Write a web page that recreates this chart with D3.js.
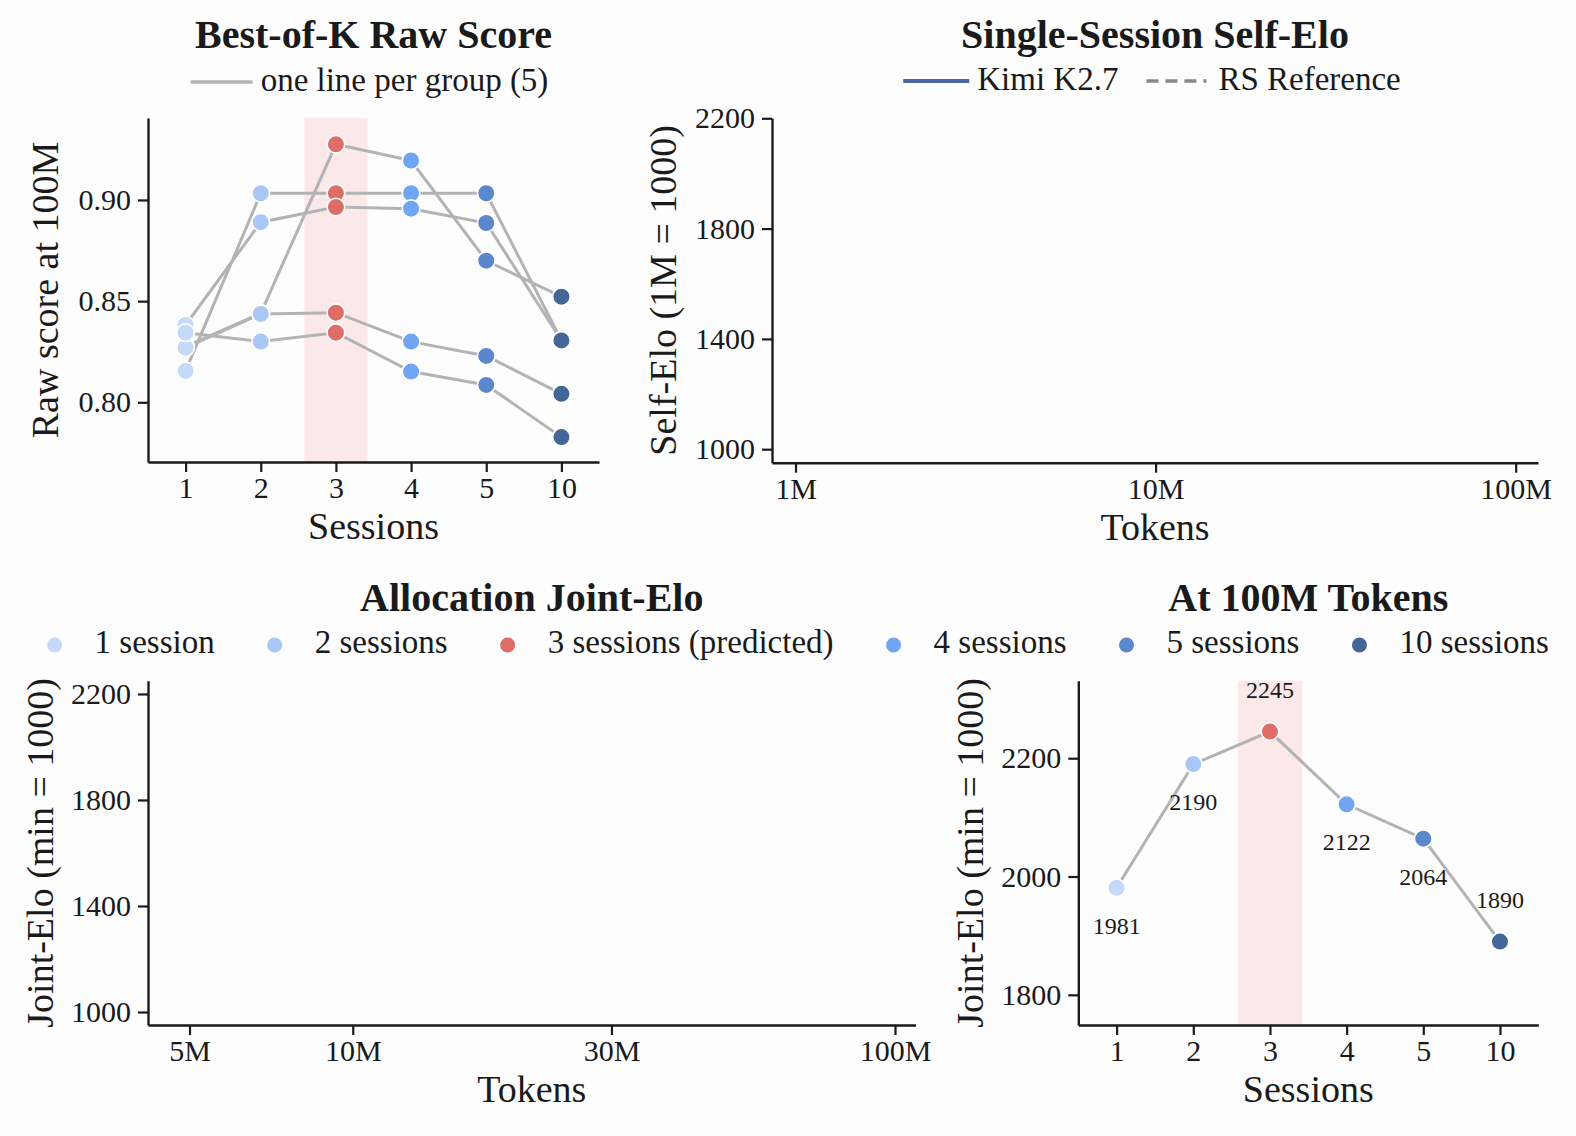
<!DOCTYPE html>
<html>
<head>
<meta charset="utf-8">
<script src="https://cdn.jsdelivr.net/npm/d3@7/dist/d3.min.js"></script>
<style>
  html, body { margin: 0; padding: 0; background: #fdfdfd; }
  svg { display: block; }
  text { font-family: "Liberation Serif", "DejaVu Serif", serif; fill: #1a1a1a; }
</style>
</head>
<body>
<svg id="chart" width="1576" height="1136"></svg>
<script>
// ---------------- DATA ----------------
const sessions = ["1", "2", "3", "4", "5", "10"];
const sessionLabels = ["1 session", "2 sessions", "3 sessions (predicted)", "4 sessions", "5 sessions", "10 sessions"];
const sessionColors = ["#c5daf8", "#a9c7f5", "#dd6d66", "#6fa5f2", "#5b88cc", "#446699"];
const predictedSession = "3";

// Best-of-K raw score at 100M, one line per group (5 groups)
const rawGroup1 = [0.8275, 0.8440, 0.9275, 0.9195, 0.8700, 0.8522];
const rawGroup2 = [0.8155, 0.9033, 0.9033, 0.9033, 0.9033, 0.8306];
const rawGroup3 = [0.8382, 0.8890, 0.8965, 0.8957, 0.8886, 0.8306];
const rawGroup4 = [0.8270, 0.8437, 0.8443, 0.8300, 0.8229, 0.8042];
const rawGroup5 = [0.8344, 0.8300, 0.8344, 0.8152, 0.8086, 0.7828];
const rawTicks = [0.80, 0.85, 0.90];

// Joint-Elo at 100M tokens
const joint100M = [1981, 2190, 2245, 2122, 2064, 1890];
const joint100MTicks = [1800, 2000, 2200];

// Elo panels (no series drawn)
const eloTicks = [1000, 1400, 1800, 2200];
const selfTokenTicks = [1e6, 1e7, 1e8];
const selfTokenLabels = ["1M", "10M", "100M"];
const jointTokenTicks = [5e6, 1e7, 3e7, 1e8];
const jointTokenLabels = ["5M", "10M", "30M", "100M"];

// ---------------- STYLE ----------------
const FONT_TICK = 30, FONT_LABEL = 38, FONT_TITLE = 40, FONT_LEG = 33, FONT_ANN = 24;
const INK = "#1a1a1a";
const GRAY = "#b3b3b3";
const BAND = "#fbe9e9";

const svg = d3.select("#chart");

function styleAxis(g) {
  g.selectAll(".domain").attr("stroke", INK).attr("stroke-width", 2.4);
  g.selectAll(".tick line").attr("stroke", INK).attr("stroke-width", 2.2);
  g.selectAll(".tick text").attr("font-size", FONT_TICK).attr("fill", INK)
    .attr("font-family", '"Liberation Serif", serif');
}

function panel(opts) {
  const { left, right, top, bottom, x, y, xTicks, xFmt, yTicks, yFmt, xLabel, yLabel, yLabelX, title } = opts;
  const gx = svg.append("g").attr("transform", `translate(0,${bottom})`)
    .call(d3.axisBottom(x).tickValues(xTicks).tickFormat(xFmt).tickSize(10).tickPadding(5).tickSizeOuter(0));
  styleAxis(gx);
  const gy = svg.append("g").attr("transform", `translate(${left},0)`)
    .call(d3.axisLeft(y).tickValues(yTicks).tickFormat(yFmt).tickSize(10).tickPadding(7).tickSizeOuter(0));
  styleAxis(gy);
  svg.append("text").attr("x", (left + right) / 2).attr("y", bottom + 77)
    .attr("text-anchor", "middle").attr("font-size", FONT_LABEL).text(xLabel);
  svg.append("text").attr("transform", `translate(${yLabelX},${(top + bottom) / 2}) rotate(-90)`)
    .attr("text-anchor", "middle").attr("font-size", FONT_LABEL).text(yLabel);
  svg.append("text").attr("x", (left + right) / 2).attr("y", top - 70)
    .attr("text-anchor", "middle").attr("font-size", FONT_TITLE).attr("font-weight", "bold").text(title);
}

// ---------------- PANEL 1: Best-of-K Raw Score ----------------
{
  const L = 148, R = 599, T = 118, B = 462;
  const x = d3.scalePoint().domain(sessions).range([L, R]).padding(0.5);
  const y = d3.scaleLinear().domain([0.7705, 0.9405]).range([B, T]);
  const step = x.step();
  svg.append("rect").attr("x", x(predictedSession) - 0.42 * step).attr("width", 0.84 * step)
    .attr("y", T).attr("height", B - T).attr("fill", BAND);
  panel({ left: L, right: R, top: T, bottom: B, x, y,
    xTicks: sessions, xFmt: d => d, yTicks: rawTicks, yFmt: d3.format(".2f"),
    xLabel: "Sessions", yLabel: "Raw score at 100M", yLabelX: 58, title: "Best-of-K Raw Score" });
  const groups = [rawGroup1, rawGroup2, rawGroup3, rawGroup4, rawGroup5];
  const line = d3.line().x((d, i) => x(sessions[i])).y(d => y(d));
  svg.append("g").selectAll("path").data(groups).join("path")
    .attr("d", line).attr("fill", "none").attr("stroke", GRAY).attr("stroke-width", 3);
  const pts = groups.flatMap(g => g.map((v, i) => ({ s: sessions[i], i, v })));
  svg.append("g").selectAll("circle").data(pts).join("circle")
    .attr("cx", d => x(d.s)).attr("cy", d => y(d.v)).attr("r", 8.8)
    .attr("fill", d => sessionColors[d.i]).attr("stroke", "#fff").attr("stroke-width", 1.6);
  // legend
  const lg = svg.append("g");
  lg.append("line").attr("x1", 0).attr("x2", 62).attr("y1", 0).attr("y2", 0)
    .attr("stroke", GRAY).attr("stroke-width", 3.5);
  const t = lg.append("text").attr("x", 70).attr("y", 9).attr("font-size", FONT_LEG).text("one line per group (5)");
  const w = 70 + t.node().getComputedTextLength();
  lg.attr("transform", `translate(${(L + R) / 2 - 4 - w / 2},82)`);
}

// ---------------- PANEL 2: Single-Session Self-Elo ----------------
{
  const L = 772, R = 1538, T = 118, B = 462.7;
  const x = d3.scaleLog().domain([Math.pow(10, 5.9347), Math.pow(10, 8.062)]).range([L, R]);
  const y = d3.scaleLinear().domain([951, 2201]).range([B, T]);
  panel({ left: L, right: R, top: T, bottom: B, x, y,
    xTicks: selfTokenTicks, xFmt: (d, i) => selfTokenLabels[i], yTicks: eloTicks, yFmt: d3.format("d"),
    xLabel: "Tokens", yLabel: "Self-Elo (1M = 1000)", yLabelX: 676, title: "Single-Session Self-Elo" });
  const lg = svg.append("g");
  lg.append("line").attr("x1", 0).attr("x2", 66).attr("y1", 0).attr("y2", 0)
    .attr("stroke", "#4a6aa5").attr("stroke-width", 4);
  const t1 = lg.append("text").attr("x", 74).attr("y", 9).attr("font-size", FONT_LEG).text("Kimi K2.7");
  const x2 = 74 + t1.node().getComputedTextLength() + 28;
  lg.append("line").attr("x1", x2).attr("x2", x2 + 60).attr("y1", 0).attr("y2", 0)
    .attr("stroke", "#888").attr("stroke-width", 3.5).attr("stroke-dasharray", "12,7");
  const t2 = lg.append("text").attr("x", x2 + 72).attr("y", 9).attr("font-size", FONT_LEG).text("RS Reference");
  const w = x2 + 72 + t2.node().getComputedTextLength();
  lg.attr("transform", `translate(${1152 - w / 2},81)`);
}

// ---------------- PANEL 3: Allocation Joint-Elo ----------------
{
  const L = 148, R = 915.5, T = 680.7, B = 1025;
  const x = d3.scaleLog().domain([Math.pow(10, 6.6224), Math.pow(10, 8.0378)]).range([L, R]);
  const y = d3.scaleLinear().domain([951, 2250]).range([B, T]);
  panel({ left: L, right: R, top: T, bottom: B, x, y,
    xTicks: jointTokenTicks, xFmt: (d, i) => jointTokenLabels[i], yTicks: eloTicks, yFmt: d3.format("d"),
    xLabel: "Tokens", yLabel: "Joint-Elo (min = 1000)", yLabelX: 53, title: "Allocation Joint-Elo" });
}

// ---------------- PANEL 4: At 100M Tokens ----------------
{
  const L = 1078.3, R = 1538.3, T = 680.7, B = 1025;
  const x = d3.scalePoint().domain(sessions).range([L, R]).padding(0.5);
  const y = d3.scaleLinear().domain([1749, 2331]).range([B, T]);
  const step = x.step();
  svg.append("rect").attr("x", x(predictedSession) - 0.42 * step).attr("width", 0.84 * step)
    .attr("y", T).attr("height", B - T).attr("fill", BAND);
  panel({ left: L, right: R, top: T, bottom: B, x, y,
    xTicks: sessions, xFmt: d => d, yTicks: joint100MTicks, yFmt: d3.format("d"),
    xLabel: "Sessions", yLabel: "Joint-Elo (min = 1000)", yLabelX: 983, title: "At 100M Tokens" });
  const line = d3.line().x((d, i) => x(sessions[i])).y(d => y(d));
  svg.append("path").datum(joint100M).attr("d", line).attr("fill", "none")
    .attr("stroke", GRAY).attr("stroke-width", 3);
  svg.append("g").selectAll("circle").data(joint100M).join("circle")
    .attr("cx", (d, i) => x(sessions[i])).attr("cy", d => y(d)).attr("r", 8.8)
    .attr("fill", (d, i) => sessionColors[i]).attr("stroke", "#fff").attr("stroke-width", 1.6);
  const maxV = d3.max(joint100M);
  svg.append("g").selectAll("text").data(joint100M).join("text")
    .attr("x", (d, i) => x(sessions[i]))
    .attr("y", (d, i) => (d === maxV || i === joint100M.length - 1) ? y(d) - 42 + 8 : y(d) + 38 + 8)
    .attr("text-anchor", "middle").attr("font-size", FONT_ANN).text(d => d);
}

// ---------------- Figure legend (sessions) ----------------
{
  const lg = svg.append("g");
  let cx = 0;
  sessionLabels.forEach((lab, i) => {
    lg.append("circle").attr("cx", cx).attr("cy", 0).attr("r", 7.5).attr("fill", sessionColors[i]);
    const t = lg.append("text").attr("x", cx + 40).attr("y", 8).attr("font-size", FONT_LEG).text(lab);
    cx += 40 + t.node().getComputedTextLength() + 60;
  });
  const total = cx - 60 + 7.5;
  lg.attr("transform", `translate(${798 - total / 2 + 7.5},645)`);
}
</script>
</body>
</html>
